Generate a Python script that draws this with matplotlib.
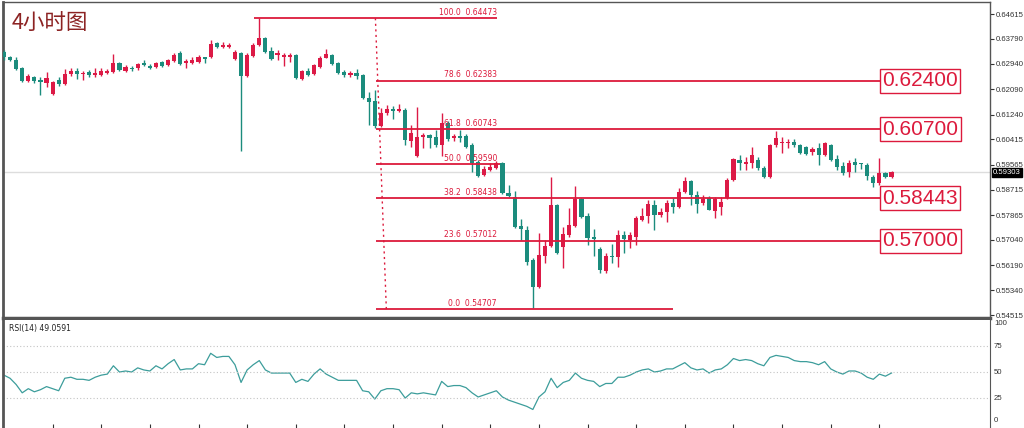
import numpy as np
import matplotlib.pyplot as plt

# 4h candles
opens = [0.6334, 0.6317, 0.6307, 0.6280, 0.6237, 0.6250, 0.6240, 0.6230, 0.6193, 0.6240,
         0.6227, 0.6260, 0.6270, 0.6260, 0.6267, 0.6257, 0.6257, 0.6264, 0.6267, 0.6297,
         0.6270, 0.6280, 0.6280, 0.6297, 0.6287, 0.6284, 0.6300, 0.6290, 0.6304, 0.6331,
         0.6297, 0.6297, 0.6300, 0.6317, 0.6317, 0.6364, 0.6351, 0.6351, 0.6311, 0.6331,
         0.6254, 0.6321, 0.6358, 0.6381, 0.6337, 0.6324, 0.6317, 0.6317, 0.6324, 0.6243,
         0.6270, 0.6260, 0.6284, 0.6314, 0.6324, 0.6297, 0.6267, 0.6257, 0.6264, 0.6257,
         0.6180, 0.6170, 0.6086, 0.6129, 0.6143, 0.6136, 0.6139, 0.6035, 0.5985, 0.6049,
         0.6056, 0.6049, 0.6022, 0.6096, 0.6046, 0.6052, 0.6052, 0.6022, 0.5965, 0.5921,
         0.5938, 0.5945, 0.5962, 0.5861, 0.5848, 0.5750, 0.5737, 0.5636, 0.5546, 0.5650,
         0.5683, 0.5821, 0.5680, 0.5720, 0.5750, 0.5841, 0.5784, 0.5713, 0.5673, 0.5599,
         0.5650, 0.5646, 0.5720, 0.5703, 0.5713, 0.5770, 0.5784, 0.5821, 0.5787, 0.5797,
         0.5827, 0.5814, 0.5864, 0.5901, 0.5854, 0.5827, 0.5844, 0.5801, 0.5814, 0.5844,
         0.5905, 0.5972, 0.5958, 0.5962, 0.5972, 0.5945, 0.5915, 0.6022, 0.6029, 0.6029,
         0.6032, 0.6022, 0.6015, 0.5999, 0.6012, 0.5988, 0.6022, 0.5975, 0.5952, 0.5931,
         0.5965, 0.5962, 0.5955, 0.5915, 0.5894, 0.5928, 0.5915]
highs = [0.6341, 0.6321, 0.6317, 0.6284, 0.6260, 0.6254, 0.6250, 0.6267, 0.6237, 0.6250,
         0.6277, 0.6280, 0.6280, 0.6270, 0.6274, 0.6280, 0.6280, 0.6277, 0.6327, 0.6300,
         0.6290, 0.6287, 0.6297, 0.6307, 0.6294, 0.6300, 0.6304, 0.6311, 0.6331, 0.6337,
         0.6311, 0.6317, 0.6324, 0.6318, 0.6374, 0.6368, 0.6368, 0.6364, 0.6341, 0.6334,
         0.6331, 0.6364, 0.6447, 0.6384, 0.6351, 0.6341, 0.6331, 0.6331, 0.6327, 0.6274,
         0.6280, 0.6294, 0.6321, 0.6344, 0.6327, 0.6300, 0.6274, 0.6270, 0.6277, 0.6260,
         0.6200, 0.6207, 0.6146, 0.6156, 0.6153, 0.6160, 0.6146, 0.6089, 0.6150, 0.6062,
         0.6059, 0.6072, 0.6129, 0.6103, 0.6059, 0.6072, 0.6059, 0.6029, 0.5972, 0.5952,
         0.5962, 0.5968, 0.5965, 0.5888, 0.5868, 0.5774, 0.5750, 0.5643, 0.5727, 0.5703,
         0.5915, 0.5824, 0.5747, 0.5811, 0.5884, 0.5844, 0.5794, 0.5740, 0.5680, 0.5660,
         0.5690, 0.5737, 0.5734, 0.5730, 0.5784, 0.5811, 0.5838, 0.5838, 0.5811, 0.5838,
         0.5844, 0.5878, 0.5915, 0.5905, 0.5868, 0.5854, 0.5851, 0.5848, 0.5848, 0.5911,
         0.5978, 0.5988, 0.5982, 0.6015, 0.5982, 0.5952, 0.6025, 0.6069, 0.6049, 0.6042,
         0.6042, 0.6025, 0.6019, 0.6015, 0.6029, 0.6032, 0.6025, 0.5988, 0.5965, 0.5972,
         0.5978, 0.5963, 0.5962, 0.5921, 0.5978, 0.5931, 0.5935]
lows = [0.6307, 0.6304, 0.6274, 0.6233, 0.6233, 0.6230, 0.6190, 0.6217, 0.6190, 0.6220,
        0.6223, 0.6254, 0.6243, 0.6240, 0.6250, 0.6250, 0.6254, 0.6260, 0.6264, 0.6270,
        0.6267, 0.6270, 0.6274, 0.6287, 0.6277, 0.6280, 0.6284, 0.6287, 0.6300, 0.6290,
        0.6280, 0.6295, 0.6297, 0.6297, 0.6314, 0.6347, 0.6347, 0.6347, 0.6307, 0.6002,
        0.6250, 0.6317, 0.6354, 0.6331, 0.6307, 0.6307, 0.6287, 0.6300, 0.6243, 0.6240,
        0.6254, 0.6257, 0.6280, 0.6313, 0.6290, 0.6260, 0.6250, 0.6250, 0.6243, 0.6176,
        0.6089, 0.6079, 0.6082, 0.6123, 0.6109, 0.6133, 0.6022, 0.6015, 0.5982, 0.6012,
        0.6012, 0.6015, 0.5985, 0.6035, 0.6035, 0.6032, 0.6012, 0.5931, 0.5915, 0.5918,
        0.5935, 0.5942, 0.5858, 0.5848, 0.5744, 0.5703, 0.5619, 0.5475, 0.5542, 0.5626,
        0.5680, 0.5656, 0.5609, 0.5713, 0.5747, 0.5777, 0.5687, 0.5650, 0.5593, 0.5593,
        0.5626, 0.5613, 0.5660, 0.5676, 0.5687, 0.5767, 0.5760, 0.5737, 0.5781, 0.5764,
        0.5794, 0.5811, 0.5861, 0.5821, 0.5794, 0.5821, 0.5803, 0.5777, 0.5787, 0.5841,
        0.5901, 0.5938, 0.5938, 0.5945, 0.5938, 0.5911, 0.5911, 0.6015, 0.5995, 0.6012,
        0.6015, 0.5992, 0.5988, 0.5988, 0.5955, 0.5985, 0.5968, 0.5938, 0.5921, 0.5915,
        0.5931, 0.5942, 0.5905, 0.5881, 0.5888, 0.5911, 0.5911]
closes = [0.6317, 0.6307, 0.6277, 0.6237, 0.6254, 0.6237, 0.6233, 0.6247, 0.6233, 0.6227,
          0.6260, 0.6270, 0.6260, 0.6264, 0.6257, 0.6264, 0.6270, 0.6270, 0.6297, 0.6274,
          0.6284, 0.6277, 0.6294, 0.6290, 0.6280, 0.6297, 0.6287, 0.6307, 0.6324, 0.6294,
          0.6304, 0.6307, 0.6317, 0.6311, 0.6361, 0.6351, 0.6358, 0.6358, 0.6334, 0.6254,
          0.6324, 0.6358, 0.6381, 0.6334, 0.6311, 0.6331, 0.6324, 0.6324, 0.6247, 0.6270,
          0.6257, 0.6290, 0.6314, 0.6327, 0.6294, 0.6264, 0.6257, 0.6264, 0.6254, 0.6180,
          0.6166, 0.6086, 0.6129, 0.6143, 0.6136, 0.6143, 0.6039, 0.6062, 0.6049, 0.6056,
          0.6046, 0.6022, 0.6096, 0.6042, 0.6052, 0.6046, 0.6015, 0.5962, 0.5918, 0.5942,
          0.5948, 0.5962, 0.5861, 0.5851, 0.5747, 0.5740, 0.5630, 0.5546, 0.5653, 0.5683,
          0.5821, 0.5660, 0.5723, 0.5754, 0.5841, 0.5781, 0.5710, 0.5707, 0.5603, 0.5650,
          0.5646, 0.5720, 0.5707, 0.5720, 0.5777, 0.5784, 0.5824, 0.5787, 0.5797, 0.5827,
          0.5814, 0.5864, 0.5901, 0.5854, 0.5824, 0.5841, 0.5804, 0.5841, 0.5831, 0.5905,
          0.5975, 0.5962, 0.5965, 0.5988, 0.5945, 0.5915, 0.6022, 0.6046, 0.6032, 0.6032,
          0.6022, 0.5995, 0.5992, 0.6009, 0.5988, 0.6029, 0.5972, 0.5948, 0.5928, 0.5962,
          0.5955, 0.5958, 0.5918, 0.5894, 0.5928, 0.5915, 0.5930]

rsi = [47, 44, 38, 30, 34, 31, 33, 36, 34, 32, 44, 45, 43, 43, 42, 45, 47, 48, 56, 50,
       51, 50, 54, 52, 51, 56, 53, 58, 62, 52, 53, 53, 58, 57, 68, 64, 65, 65, 57, 40,
       52, 57, 61, 52, 49, 49, 49, 49, 40, 43, 41, 48, 53, 48, 45, 42, 42, 42, 42, 32,
       31, 24, 32, 34, 34, 33, 25, 30, 29, 30, 29, 28, 41, 36, 37, 37, 35, 30, 26, 28,
       30, 32, 26, 23, 21, 19, 17, 14, 26, 31, 44, 35, 40, 42, 49, 44, 42, 41, 36, 39,
       39, 45, 45, 47, 50, 52, 53, 50, 51, 53, 53, 56, 59, 54, 52, 53, 49, 52, 53, 57,
       63, 61, 62, 61, 58, 56, 64, 66, 65, 64, 61, 60, 60, 59, 57, 60, 53, 50, 48, 51,
       51, 49, 45, 43, 48, 46, 49.06]

fib_pct = ["100.0", "78.6", "61.8", "50.0", "38.2", "23.6", "0.0"]
fib_price = [0.64473, 0.62383, 0.60743, 0.59590, 0.58438, 0.57012, 0.54707]
fib_start = [41.1, 61.2, 61.2, 61.2, 61.2, 61.2, 61.2]
fib_end = [81.1, 144.1, 144.1, 81.6, 144.1, 144.1, 110.0]

key_labels = ["0.62400", "0.60700", "0.58443", "0.57000"]
key_prices = [0.62383, 0.60743, 0.58438, 0.57012]

price_ticks = [0.64615, 0.63790, 0.62940, 0.62090, 0.61240, 0.60415, 0.59565,
               0.58715, 0.57865, 0.57040, 0.56190, 0.55340, 0.54515]
last_price = 0.59303
rsi_last = 49.0591
rsi_levels = [75, 50, 25]

up_col = "#dc1a46"
dn_col = "#1b8c7d"
fib_col = "#dc1a3c"
frame = "#555555"

fig = plt.figure(figsize=(10.24, 4.28), dpi=100)
ax = fig.add_axes([3 / 1024, 110 / 428, 987 / 1024, 316 / 428])
ar = fig.add_axes([3 / 1024, 0, 987 / 1024, 108 / 428])

idx = np.arange(len(opens))
o = np.array(opens)
c = np.array(closes)
cols = [up_col if cc >= oo else dn_col for oo, cc in zip(o, c)]
ax.vlines(idx, lows, highs, colors=cols, lw=1, zorder=3)
body = np.maximum(np.abs(c - o), 0.00025)
ax.bar(idx, body, bottom=np.minimum(o, c), width=0.68, color=cols, lw=0, zorder=4)

# bid line
ax.axhline(last_price, color="#dddddd", lw=1, zorder=1)

# fibonacci levels
for pct, pr, x0, x1 in zip(fib_pct, fib_price, fib_start, fib_end):
    ax.hlines(pr, x0, x1, color=fib_col, lw=1.3, zorder=5)
    ax.text(81.1, pr + 0.0004, pct + "  " + "%.5f" % pr, ha="right", va="bottom",
            fontsize=5.5, color=fib_col, zorder=6)
ax.plot([61.1, 62.9], [fib_price[0], fib_price[-1]], ls=(0, (1.5, 2.5)), color=fib_col, lw=1, zorder=5)

# key level boxes
for lab, pr in zip(key_labels, key_prices):
    ax.text(150.7, pr, lab, ha="center", va="center", fontsize=15,
            family=["Liberation Sans", "DejaVu Sans"], color=fib_col, zorder=7,
            bbox=dict(boxstyle="square,pad=0.12", fc="white", ec=fib_col, lw=1))

ax.set_xlim(-0.16, 162.2)
ax.set_ylim(0.54416, 0.65018)
ax.yaxis.tick_right()
ax.set_yticks(price_ticks)
ax.set_yticklabels(["%.5f" % t for t in price_ticks], family="Liberation Sans")
ax.tick_params(axis="y", length=3, width=0.8, pad=1.5, labelsize=5.6, colors="#333333")
ax.tick_params(axis="x", bottom=False, labelbottom=False)
for s in ax.spines.values():
    s.set_color(frame)
ax.spines["left"].set_linewidth(2)
ax.spines["bottom"].set_linewidth(2.5)
ax.spines["top"].set_linewidth(1)
ax.spines["right"].set_linewidth(1)

ax.text(1.003, last_price, "%.5f" % last_price, transform=ax.get_yaxis_transform(),
        ha="left", va="center", fontsize=5.6, family="Liberation Sans", color="white", zorder=8,
        bbox=dict(boxstyle="square,pad=0.15", fc="black", ec="black"))

fig.text(12 / 1024, 1 - 24 / 428, "4小时图", fontsize=15.5, color="#8c2323",
         family=["Noto Sans CJK SC", "DejaVu Sans"], ha="left", va="center")

# RSI panel
ar.plot(idx, rsi, color="#3c9d9b", lw=0.9)
for lv in rsi_levels:
    ar.axhline(lv, color="#c4c4c4", lw=0.8, ls=(0, (1, 2)))
ar.set_xlim(-0.16, 162.2)
ar.set_ylim(-3.8, 100)
ar.set_yticks([])
ar.set_xticks(np.arange(8, 145, 8))
ar.tick_params(axis="x", direction="in", length=3, labelbottom=False, colors="#333333")
ar.spines["top"].set_visible(False)
ar.spines["bottom"].set_visible(False)
ar.spines["left"].set_linewidth(2)
ar.spines["left"].set_color(frame)
ar.spines["right"].set_color(frame)
ar.text(0.006, 0.96, "RSI(14) %.4f" % rsi_last, transform=ar.transAxes, fontsize=5.5,
        color="#222222", ha="left", va="top")
for lv, va in zip([100, 75, 50, 25, 0], ["top", "center", "center", "center", "bottom"]):
    ar.text(1.004, lv, str(lv), transform=ar.get_yaxis_transform(), fontsize=5.6,
            family="Liberation Sans", color="#333333", ha="left", va=va)

fig.savefig("out.png", dpi=100)
